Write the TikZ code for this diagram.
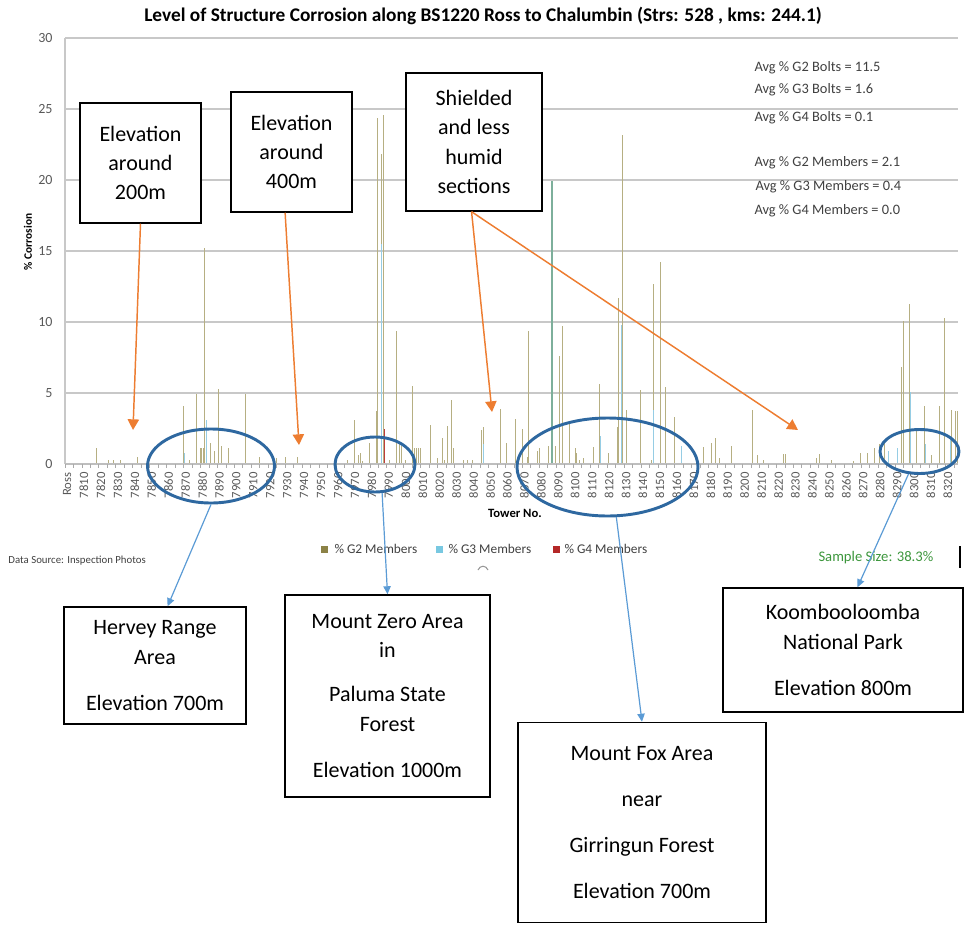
\documentclass[tikz,border=0pt]{standalone}
\usepackage{fontspec}
\setmainfont{Carlito}
\usetikzlibrary{shapes.geometric,arrows.meta}

\tikzset{every picture/.style={line width=0.75pt}}
\tikzset{
  grid line/.style={draw={rgb, 255:red, 200; green, 200; blue, 200 }, line width=1.1pt},
  axis tick/.style={draw={rgb, 255:red, 170; green, 170; blue, 170 }, line width=0.6pt},
  g2 bar/.style={draw={rgb, 255:red, 182; green, 175; blue, 130 }, line width=0.75pt},
  g3 bar/.style={draw={rgb, 255:red, 150; green, 205; blue, 228 }, line width=0.75pt},
  g4 bar/.style={draw={rgb, 255:red, 190; green, 60; blue, 60 }, line width=0.75pt},
  tick lbl/.style={inner sep=0.75pt, text={rgb, 255:red, 89; green, 89; blue, 89 }, font=\fontsize{9.5}{11}\selectfont},
  note box/.style={draw, fill=white, line width=1.1pt, align=center, inner sep=0.75pt, font=\fontsize{16.5}{22}\selectfont},
  stat lbl/.style={anchor=west, inner sep=0.75pt, text={rgb, 255:red, 64; green, 64; blue, 64 }, font=\fontsize{10.8}{12}\selectfont},
  legend key/.style={inner sep=0pt, minimum size=5.25pt},
  zone ring/.style={ellipse, draw={rgb, 255:red, 46; green, 104; blue, 160 }, line width=2.2pt, inner sep=0pt},
  hint arrow/.style={draw={rgb, 255:red, 237; green, 125; blue, 49 }, line width=1.1pt, -{Triangle[length=8pt,width=8.5pt]}},
  area arrow/.style={draw={rgb, 255:red, 91; green, 155; blue, 213 }, line width=0.9pt, -{Triangle[length=6pt,width=5.5pt]}},
}

\begin{document}
\begin{tikzpicture}[x=0.75pt,y=0.75pt,yscale=-1,xscale=1]
\useasboundingbox (0,0) rectangle (965,925);

% Title
\node[inner sep=0.75pt, font=\bfseries\fontsize{14.5}{16}\selectfont] (title) at (483,16) {Level of Structure Corrosion along BS1220 Ross to Chalumbin (Strs: 528 , kms: 244.1)};

%Grid and axes
\draw[grid line, line width=0.8pt] (65,38) -- (65,464) ;
\foreach \v in {5,10,...,30}
  \draw[grid line] (65,{464-14.2*\v}) -- (958,{464-14.2*\v}) ;
\foreach \v in {0,5,...,30}
  \node[tick lbl, anchor=east, font=\fontsize{10.5}{12}\selectfont] (yl\v) at (54,{464-14.2*\v}) {\v};

%Bars: % G2 Members
\foreach \x/\v in {96/1.1, 108/0.3, 113/0.3, 120/0.3, 137/0.5, 183/4.1, 189/0.3, 196/4.9, 200/1.1, 201.5/1.1, 203/1.1, 204.5/15.2, 210/1.5, 214/0.9, 218/5.3, 221/1.3, 228/1.1, 245/4.9, 259/0.5, 276/0.4, 285/0.5, 297/0.5,
  347/0.3, 354/3.1, 358/0.6, 360/0.8, 362/0.2, 369/1.5, 376/3.7, 377.5/24.4, 381/21.8, 383/24.6, 389/0.3, 396/9.4, 399/1.4, 401/1.3, 405/0.3, 412/5.5, 414/1.1, 416/1.1, 418/1.1, 420/1.1,
  430/2.75, 437/0.4, 442/1.8, 444/0.3, 447/2.7, 451/4.5, 453/1.1, 463/0.3, 467/0.3, 472/0.3, 481/2.4, 483/2.6, 500/3.9, 506/1.5, 515/3.2, 522/2.5, 527/0.5, 528.5/9.4,
  537/0.9, 539/1.1, 548/1.3, 555/1.3, 559/7.6, 562/9.7, 569/2.8, 575/1.1, 576/0.8, 579/0.3, 583/0.4, 593/1.2, 599/5.6, 608/0.8, 617/2.6, 618.5/11.7, 622/23.2, 626/3.8,
  640/5.2, 651/0.3, 653/12.7, 660/14.2, 665/5.4, 674/3.3, 703/1.2, 711/1.5, 715/1.8, 719/0.4, 731/1.3, 752/3.8, 757/0.6, 763/0.3, 783/0.7, 785/0.7, 816/0.4, 819/0.7, 831/0.3,
  853/0.2, 860/0.8, 867/0.8, 874/1.1, 879/1.4, 884/1.6, 901/6.8, 903/10.1, 909/11.3, 916/2.3, 924/4.1, 931/0.6, 939/4.1, 944/10.3, 951/3.8, 955/3.7, 957/3.7}
  \draw[g2 bar] (\x,464) -- (\x,{464-14.2*\v}) ;
%Bars: % G3 Members
\foreach \x/\v in {184/0.8, 206/3.1, 381.8/15.5, 483.8/1.4, 600/2.0, 621/9.8, 653.8/3.8, 681/1.3, 888/0.9, 897/1.1, 910/5.1, 925/1.4, 950/2.0}
  \draw[g3 bar] (\x,464) -- (\x,{464-14.2*\v}) ;
% G2 and G3 together
\draw[g2 bar, draw={rgb, 255:red, 125; green, 175; blue, 155 }, line width=0.8pt] (552,464) -- (552,{464-14.2*19.9}) ;
%Bars: % G4 Members
\draw[g4 bar] (384.5,464) -- (384.5,{464-14.2*2.5}) ;

%Horizontal axis
\draw[draw={rgb, 255:red, 190; green, 190; blue, 190 }, line width=1.5pt] (65,464) -- (958,464) ;
\foreach \i in {0,...,105}
  \draw[axis tick] ({65+8.47*\i},464) -- ({65+8.47*\i},468) ;
\node[tick lbl, rotate=90, anchor=east] (xl0) at (67,471) {Ross};
\foreach \i [evaluate=\i as \lab using int(7800+10*\i)] in {1,...,52}
  \node[tick lbl, rotate=90, anchor=east] (xl\i) at ({67+16.94*\i},471) {\lab};

% Text Node
\node[inner sep=0.75pt, font=\bfseries\fontsize{9.5}{11}\selectfont] (xtitle) at (515,513) {Tower No.};
% Text Node
\node[inner sep=0.75pt, rotate=90, font=\bfseries\fontsize{8.5}{10}\selectfont] (ytitle) at (28,242) {\% Corrosion};

% Averages
\node[stat lbl] (s1) at (753,68) {Avg \% G2 Bolts = 11.5};
\node[stat lbl] (s2) at (753,90) {Avg \% G3 Bolts = 1.6};
\node[stat lbl] (s3) at (753,118) {Avg \% G4 Bolts = 0.1};
\node[stat lbl] (s4) at (753,163) {Avg \% G2 Members = 2.1};
\node[stat lbl] (s5) at (754,187) {Avg \% G3 Members = 0.4};
\node[stat lbl] (s6) at (753,211) {Avg \% G4 Members = 0.0};

% Legend
\node[legend key, fill={rgb, 255:red, 140; green, 130; blue, 70 }] (k2) at (324.5,549.5) {};
\node[stat lbl, font=\fontsize{10}{12}\selectfont] (l2) at (333,549) {\% G2 Members};
\node[legend key, fill={rgb, 255:red, 120; green, 200; blue, 225 }] (k3) at (439.5,549.5) {};
\node[stat lbl, font=\fontsize{10}{12}\selectfont] (l3) at (447,549) {\% G3 Members};
\node[legend key, fill={rgb, 255:red, 180; green, 40; blue, 40 }] (k4) at (556,549.5) {};
\node[stat lbl, font=\fontsize{10}{12}\selectfont] (l4) at (563,549) {\% G4 Members};
\draw[draw={rgb, 255:red, 150; green, 150; blue, 150 }, line width=0.8pt] (478,570) .. controls (480,565) and (486,565) .. (488,570) ;

% Text Node
\node[stat lbl, font=\fontsize{8.1}{10}\selectfont] (src) at (7,561) {Data Source: Inspection Photos};
% Text Node
\node[stat lbl, text={rgb, 255:red, 60; green, 150; blue, 60 }, font=\fontsize{11}{13}\selectfont] (sample) at (817,558) {Sample Size: 38.3\%};
\draw[line width=1pt] (960,546) -- (960,568) ;

%Upper notes
\node[note box, minimum width=121*0.75pt, minimum height=120*0.75pt] (box1) at (140.5,163) {Elevation\\around\\200m};
\node[note box, minimum width=121*0.75pt, minimum height=120*0.75pt] (box2) at (291.5,152) {Elevation\\around\\400m};
\node[note box, minimum width=136*0.75pt, minimum height=138*0.75pt] (box3) at (474,142) {Shielded\\and less\\humid\\sections};
\coordinate (tipA) at (133,430);
\coordinate (tipB) at (299,445);
\coordinate (tipC) at (492,412);
\coordinate (tipD) at (798,430);
\draw[hint arrow] (box1.south) -- (tipA) ;
\draw[hint arrow] (box2.-96) -- (tipB) ;
\draw[hint arrow] (box3.-92) -- (tipC) ;
\draw[hint arrow] (box3.-92) -- (tipD) ;

%Regions
\node[zone ring, minimum width=127*0.75pt, minimum height=74*0.75pt] (ringA) at (211,466) {};
\node[zone ring, minimum width=80*0.75pt, minimum height=55*0.75pt] (ringB) at (375,464.5) {};
\node[zone ring, minimum width=181*0.75pt, minimum height=98*0.75pt] (ringC) at (607.5,467) {};
\node[zone ring, minimum width=79*0.75pt, minimum height=44*0.75pt] (ringD) at (919.5,451.5) {};

%Lower notes
\node[note box, minimum width=182*0.75pt, minimum height=117*0.75pt] (box4) at (155,665.5) {Hervey Range\\Area\\[12.5pt]Elevation 700m};
\node[note box, minimum width=205*0.75pt, minimum height=202*0.75pt] (box5) at (387.5,696) {Mount Zero Area\\in\\[11pt]Paluma State\\Forest\\[12.5pt]Elevation 1000m};
\node[note box, minimum width=248*0.75pt, minimum height=200*0.75pt] (box6) at (642,822.5) {Mount Fox Area\\[12.5pt]near\\[12.5pt]Girringun Forest\\[12.5pt]Elevation 700m};
\node[note box, minimum width=240*0.75pt, minimum height=124*0.75pt] (box7) at (843,650) {Koombooloomba\\National Park\\[12.5pt]Elevation 800m};
\draw[area arrow] (ringA.south) -- (box4.78) ;
\draw[area arrow] (ringB.-76) -- (box5.north) ;
\draw[area arrow] (ringC.-80) -- (box6.north) ;
\draw[area arrow] (ringD.-116) -- (box7.77) ;

\end{tikzpicture}
\end{document}
